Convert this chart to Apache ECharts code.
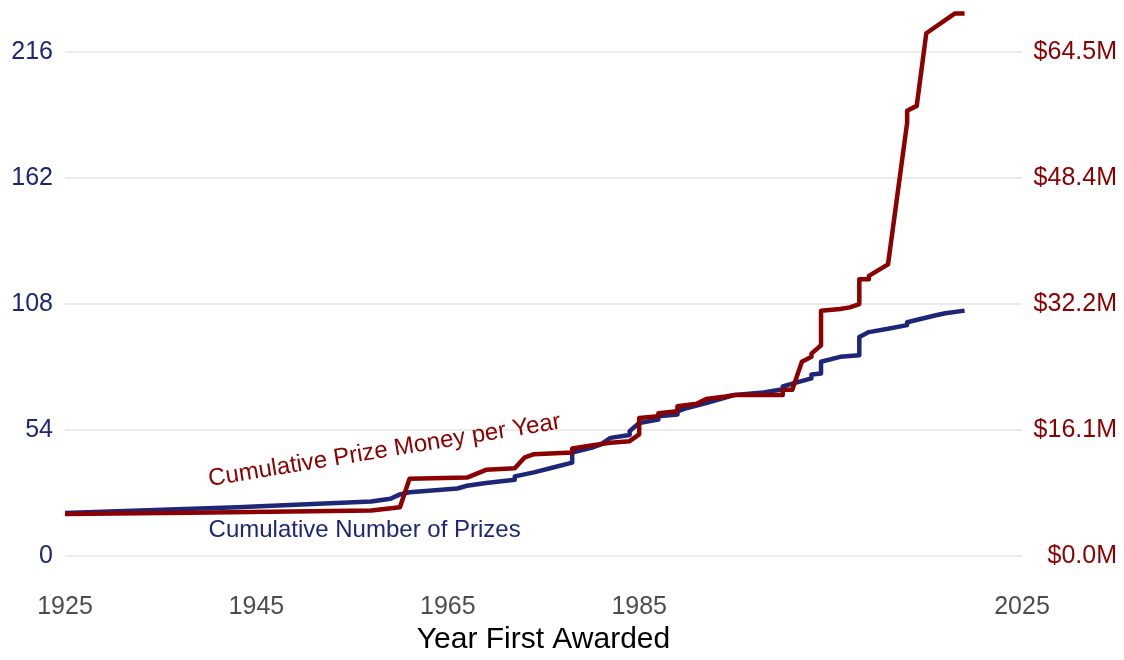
<!DOCTYPE html>
<html>
<head>
<meta charset="utf-8">
<script src="https://cdn.jsdelivr.net/npm/echarts@6/dist/echarts.min.js"></script>
<style>
html,body{margin:0;padding:0;background:#fff;}
#chart{width:1124px;height:660px;}
</style>
</head>
<body>
<div id="chart"></div>
<script>
// ---- data ----
// cumulative number of prizes by year first awarded: [year, count]
const prizeCount = [
  [1925,18.4],[1943,20.9],[1957,23.3],[1959,24.5],[1960,26.4],[1961,27.3],
  [1966,28.9],[1967,30.1],[1969,31.3],[1972,32.7],[1972,34.1],[1974,35.8],
  [1976,37.9],[1978,40.0],[1978,44.3],[1980,46.3],[1981,47.8],[1982,50.6],
  [1984,51.8],[1984,53.5],[1985,57.0],[1987,58.4],[1987,59.8],[1989,60.6],
  [1989,62.0],[1990,63.4],[1992,65.5],[1994,67.8],[1995,69.0],[1998,70.0],
  [2000,71.4],[2000,72.6],[2001,73.8],[2003,76.1],[2003,77.7],[2004,78.2],
  [2004,83.2],[2006,85.3],[2008,86.0],[2008,93.8],[2009,95.9],[2011,97.3],
  [2013,98.9],[2013,100.1],[2016,103.1],[2017,104.0],[2019,105.1]
];
// cumulative prize money ($M): [year, money]
const prizeMoney = [
  [1925,5.38],[1938,5.52],[1957,5.82],[1960,6.24],[1961,9.88],[1967,10.03],
  [1969,11.02],[1972,11.23],[1973,12.57],[1974,13.02],[1978,13.23],[1978,13.74],
  [1980,14.15],[1982,14.48],[1984,14.69],[1985,15.56],[1985,17.65],[1987,17.86],
  [1987,18.27],[1989,18.51],[1989,19.14],[1991,19.47],[1992,20.07],[1994,20.40],
  [1995,20.60],[2000,20.60],[2000,21.26],[2001,21.26],[2002,24.84],[2003,25.47],
  [2003,25.89],[2004,26.96],[2004,31.38],[2006,31.59],[2007,31.80],[2008,32.22],
  [2008,35.39],[2009,35.39],[2009,35.83],[2011,37.30],[2013,55.45],[2013,56.95],
  [2014,57.57],[2015,66.86],[2018,69.40],[2019,69.40]
];
// tick labels
const xTickLabels = ['1925','1945','1965','1985','2025'];
const leftTicks = [0,54,108,162,216];
const rightTickLabels = ['$0.0M','$16.1M','$32.2M','$48.4M','$64.5M'];
const moneyTop = 64.5;        // $M value aligned with the 216 count tick
const countTop = 216;
const countAxisMax = 236;

const BLUE = '#1d2677';
const RED = '#8b0000';
const FONT = '"Liberation Sans", Arial, sans-serif';

const chart = echarts.init(document.getElementById('chart'), null, {renderer:'canvas'});
const ratio = moneyTop / countTop;

chart.setOption({
  animation: false,
  backgroundColor: '#ffffff',
  textStyle: {fontFamily: FONT},
  grid: {left: 65, right: 102, top: 5, bottom: 99, containLabel: false},
  xAxis: {
    type: 'value', min: 1925, max: 2025, interval: 20,
    axisLine: {show: false}, axisTick: {show: false}, splitLine: {show: false},
    axisLabel: {
      margin: 39, color: '#4d4d4d', fontSize: 25, fontFamily: FONT,
      formatter: v => xTickLabels.indexOf(String(v)) >= 0 ? String(v) : ''
    },
    name: 'Year First Awarded', nameLocation: 'middle', nameGap: 69,
    nameTextStyle: {fontSize: 30, color: '#000', fontFamily: FONT}
  },
  yAxis: [
    {
      type: 'value', min: 0, max: countAxisMax, interval: 54, position: 'left',
      axisLine: {show: false}, axisTick: {show: false},
      splitLine: {show: true, showMaxLine: false, lineStyle: {color: '#ebebeb', width: 2}},
      axisLabel: {
        margin: 12, color: BLUE, fontSize: 25, fontFamily: FONT, showMaxLabel: false,
        formatter: v => leftTicks.indexOf(v) >= 0 ? String(v) : ''
      }
    },
    {
      type: 'value', min: 0, max: countAxisMax * ratio, interval: 54 * ratio, position: 'right',
      axisLine: {show: false}, axisTick: {show: false}, splitLine: {show: false},
      axisLabel: {
        margin: 95, align: 'right', color: RED, fontSize: 25, fontFamily: FONT, showMaxLabel: false,
        formatter: v => {
          const i = Math.round(v / (54 * ratio));
          return (Math.abs(v - i * 54 * ratio) < 1e-6 && i < rightTickLabels.length) ? rightTickLabels[i] : '';
        }
      }
    }
  ],
  series: [
    {
      name: 'Cumulative Number of Prizes', type: 'line', yAxisIndex: 0,
      data: prizeCount, showSymbol: false, smooth: false, z: 2,
      lineStyle: {color: BLUE, width: 4.5, join: 'round'}
    },
    {
      name: 'Cumulative Prize Money per Year', type: 'line', yAxisIndex: 1,
      data: prizeMoney, showSymbol: false, smooth: false, z: 3,
      lineStyle: {color: RED, width: 4.5, join: 'round'}
    }
  ]
});

// annotations placed in data coordinates
const pBlue = chart.convertToPixel({xAxisIndex: 0, yAxisIndex: 0}, [1940, 11]);
const pRed = chart.convertToPixel({xAxisIndex: 0, yAxisIndex: 0}, [1940, 32.8]);
chart.setOption({
  graphic: [
    {
      type: 'text', x: pBlue[0], y: pBlue[1], silent: true,
      style: {text: 'Cumulative Number of Prizes', fill: BLUE, font: '24px ' + FONT,
              align: 'left', verticalAlign: 'middle'}
    },
    {
      type: 'text', x: pRed[0], y: pRed[1], rotation: 9.3 * Math.PI / 180, silent: true,
      style: {text: 'Cumulative Prize Money per Year', fill: RED, font: '24px ' + FONT,
              align: 'left', verticalAlign: 'middle'}
    }
  ]
});
</script>
</body>
</html>
